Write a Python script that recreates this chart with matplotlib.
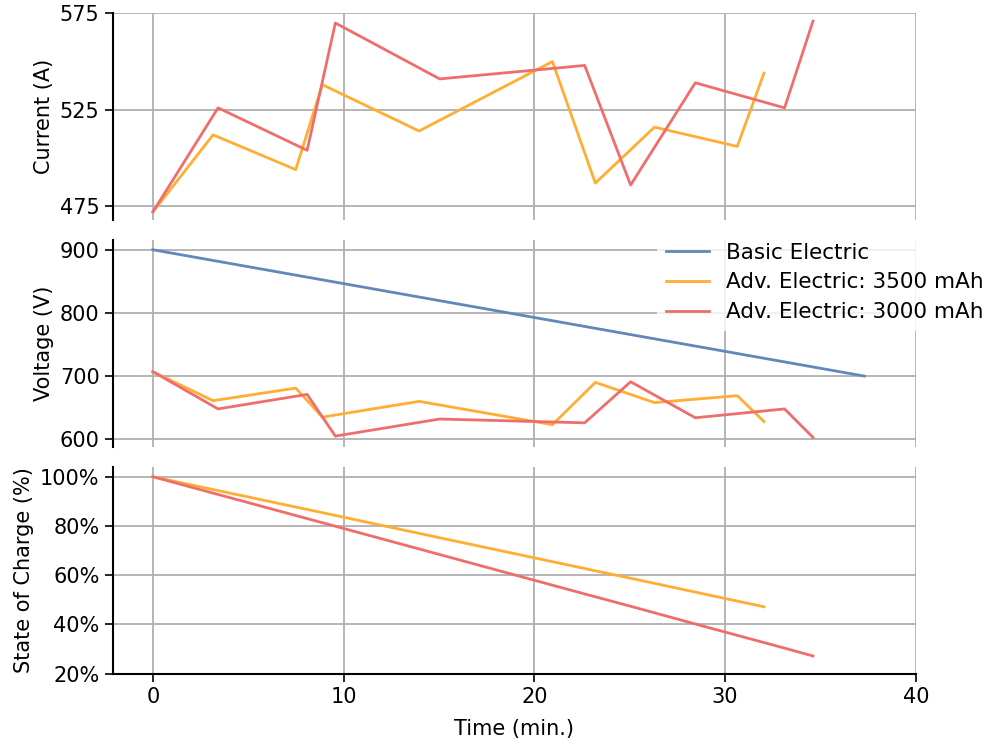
import matplotlib
matplotlib.use("Agg")
import matplotlib.pyplot as plt
from matplotlib.ticker import PercentFormatter

# time samples (min.)
t_basic = [0.0, 37.3]
t_3500 = [0.0, 3.16, 7.49, 8.89, 13.96, 20.95, 23.2, 26.3, 30.64, 32.04]
t_3000 = [0.0, 3.42, 8.09, 9.57, 15.04, 22.64, 25.05, 28.44, 33.12, 34.61]

# current (A)
i_3500 = [472, 512, 494, 538, 514, 550, 487, 516, 506, 544]
i_3000 = [472, 526, 504, 570, 541, 548, 486, 539, 526, 571]

# voltage (V)
v_basic = [900, 700]
v_3500 = [707, 661, 681, 635, 660, 623, 690, 658, 669, 628]
v_3000 = [707, 648, 671, 605, 632, 626, 691, 634, 648, 603]

# state of charge (%)
soc_3500 = [100, 94.8, 87.7, 85.4, 77.0, 65.5, 61.8, 56.7, 49.5, 47.2]
soc_3000 = [100, 92.8, 83.0, 79.9, 68.4, 52.4, 47.4, 40.2, 30.4, 27.2]

labels = ["Basic Electric", "Adv. Electric: 3500 mAh", "Adv. Electric: 3000 mAh"]
c_blue = "#6088b8"
c_orange = "#ffad33"
c_red = "#ef6e6c"

plt.rcParams['font.size'] = 15

fig, axes = plt.subplots(3, 1, figsize=(9.89, 7.42), dpi=100, sharex=True)
fig.subplots_adjust(left=0.114, right=0.926, top=0.982, bottom=0.092, hspace=0.1)

ax1, ax2, ax3 = axes

ax1.plot(t_3500, i_3500, color=c_orange, lw=2)
ax1.plot(t_3000, i_3000, color=c_red, lw=2)
ax1.set_ylim(468, 575)
ax1.set_yticks([475, 525, 575])
ax1.set_ylabel("Current (A)")

ax2.plot(t_basic, v_basic, color=c_blue, lw=2, label=labels[0])
ax2.plot(t_3500, v_3500, color=c_orange, lw=2, label=labels[1])
ax2.plot(t_3000, v_3000, color=c_red, lw=2, label=labels[2])
ax2.set_yticks([600, 700, 800, 900])
ax2.set_ylabel("Voltage (V)")
leg = ax2.legend(loc="upper left", bbox_to_anchor=(0.678, 1.03), frameon=True,
                 framealpha=0.8, edgecolor="none", fancybox=False,
                 borderaxespad=0, handlelength=2.0, labelspacing=0.45,
                 fontsize=15.5)

ax3.plot(t_3500, soc_3500, color=c_orange, lw=2)
ax3.plot(t_3000, soc_3000, color=c_red, lw=2)
ax3.set_ylim(20, 103.8)
ax3.set_yticks([20, 40, 60, 80, 100])
ax3.yaxis.set_major_formatter(PercentFormatter(decimals=0))
ax3.set_ylabel("State of Charge (%)")
ax3.set_xlabel("Time (min.)", labelpad=9)
ax3.set_xlim(-2.1, 40)
ax3.set_xticks([0, 10, 20, 30, 40])

for i, ax in enumerate(axes):
    ax.grid(True, color="#b0b0b0", lw=1.3)
    ax.set_axisbelow(True)
    ax.spines["top"].set_visible(False)
    ax.spines["right"].set_visible(False)
    ax.spines["left"].set_linewidth(1.5)
    ax.tick_params(width=1.2, length=6)
    if i < 2:
        ax.spines["bottom"].set_visible(False)
        ax.tick_params(axis="x", length=0)
    else:
        ax.spines["bottom"].set_linewidth(1.5)

fig.savefig("out.png", dpi=100)
